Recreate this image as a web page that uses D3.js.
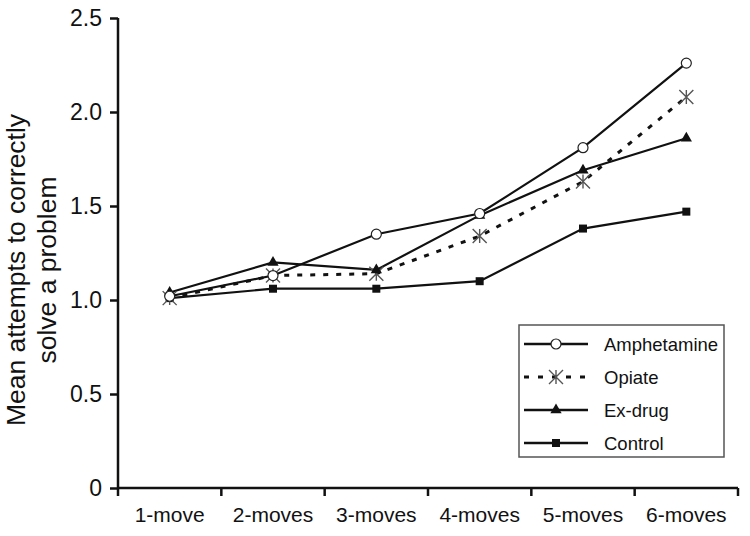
<!DOCTYPE html>
<html><head><meta charset="utf-8">
<script src="https://cdn.jsdelivr.net/npm/d3@7"></script>
<style>body{margin:0;background:#fff}svg{display:block}text{font-family:"Liberation Sans",Arial,sans-serif;fill:#111}</style>
</head><body>
<svg id="c" width="750" height="536"></svg>
<script>
const categories = ["1-move","2-moves","3-moves","4-moves","5-moves","6-moves"];
const amphetamine = [1.02,1.13,1.35,1.46,1.81,2.26];
const opiate = [1.01,1.13,1.14,1.34,1.63,2.08];
const exDrug = [1.04,1.2,1.16,1.45,1.69,1.86];
const control = [1.01,1.06,1.06,1.10,1.38,1.47];
const yTicks = [0,0.5,1.0,1.5,2.0,2.5];
const yTickLabels = ["0","0.5","1.0","1.5","2.0","2.5"];
const seriesNames = ["Amphetamine","Opiate","Ex-drug","Control"];

const svg = d3.select("#c");
const L=118, R=738, T=18, B=488;
const x = d3.scaleBand().domain(categories).range([L,R]);
const y = d3.scaleLinear().domain([0,2.5]).range([B,T]);

// axes
const ya = svg.append("g").attr("transform",`translate(${L},0)`)
  .call(d3.axisLeft(y).tickValues(yTicks).tickFormat((d,i)=>yTickLabels[i]).tickSize(8).tickPadding(8));
ya.select(".domain").attr("stroke","#111").attr("stroke-width",2.5).attr("d",`M0,${T}V${B}`);
ya.selectAll(".tick line").attr("stroke","#111").attr("stroke-width",2.5);
ya.selectAll(".tick text").style("font-size","23px").style("font-family","'Liberation Sans',Arial,sans-serif").attr("fill","#111");

const xa = svg.append("g").attr("transform",`translate(0,${B})`)
  .call(d3.axisBottom(x).tickSize(0).tickPadding(19));
xa.select(".domain").attr("stroke","#111").attr("stroke-width",2.5).attr("d",`M${L},0H${R}`);
xa.selectAll(".tick text").style("font-size","21px").style("font-family","'Liberation Sans',Arial,sans-serif").attr("fill","#111");
const bounds = categories.map(c=>x(c)).concat([R]);
xa.selectAll(".bt").data(bounds).enter().append("line")
  .attr("x1",d=>d).attr("x2",d=>d).attr("y1",0).attr("y2",8)
  .attr("stroke","#111").attr("stroke-width",2.5);

// axis title
const yt = svg.append("text").attr("transform","translate(25,270) rotate(-90)")
  .attr("text-anchor","middle").style("font-size","26.5px");
yt.append("tspan").attr("x",0).attr("dy",0).text("Mean attempts to correctly");
yt.append("tspan").attr("x",0).attr("dy",31).text("solve a problem");

const cx = c => x(c)+x.bandwidth()/2;
const line = d3.line().x((d,i)=>cx(categories[i])).y(d=>y(d));

const series = [
  {name:seriesNames[0], data:amphetamine, dash:null, marker:"circle"},
  {name:seriesNames[1], data:opiate, dash:"5,8", marker:"star"},
  {name:seriesNames[2], data:exDrug, dash:null, marker:"triangle"},
  {name:seriesNames[3], data:control, dash:null, marker:"square"}
];

function drawMarker(g, type, px, py){
  if(type==="circle"){
    g.append("circle").attr("cx",px).attr("cy",py).attr("r",5).attr("fill","#fff").attr("stroke","#222").attr("stroke-width",1.2);
  } else if(type==="star"){
    const s=7;
    g.append("path").attr("d",`M${px-s},${py-s}L${px+s},${py+s}M${px+s},${py-s}L${px-s},${py+s}M${px},${py-s}L${px},${py+s}`)
      .attr("stroke","#555").attr("stroke-width",1.4).attr("fill","none");
  } else if(type==="triangle"){
    g.append("path").attr("d",d3.symbol(d3.symbolTriangle,55)()).attr("transform",`translate(${px},${py})`).attr("fill","#111");
  } else {
    g.append("rect").attr("x",px-4).attr("y",py-4).attr("width",8).attr("height",8).attr("fill","#111");
  }
}

const draw = [series[3],series[1],series[2],series[0]];
draw.forEach(s=>{
  svg.append("path").datum(s.data).attr("d",line).attr("fill","none")
    .attr("stroke","#111").attr("stroke-width",s.dash?3:2.2)
    .attr("stroke-dasharray",s.dash);
});
draw.forEach(s=>{
  const g = svg.append("g");
  s.data.forEach((v,i)=>drawMarker(g,s.marker,cx(categories[i]),y(v)));
});

// legend
const lg = svg.append("g");
lg.append("rect").attr("x",519).attr("y",325).attr("width",205).attr("height",132)
  .attr("fill","#fff").attr("stroke","#555").attr("stroke-width",1.5);
series.forEach((s,i)=>{
  const ly = 344 + i*33;
  lg.append("line").attr("x1",524).attr("x2",588).attr("y1",ly).attr("y2",ly)
    .attr("stroke","#111").attr("stroke-width",s.dash?3:2.5).attr("stroke-dasharray",s.dash?"5,9":null);
  drawMarker(lg,s.marker,556,ly);
  lg.append("text").attr("x",604).attr("y",ly+7).style("font-size","18.5px").text(s.name);
});
</script>
</body></html>
